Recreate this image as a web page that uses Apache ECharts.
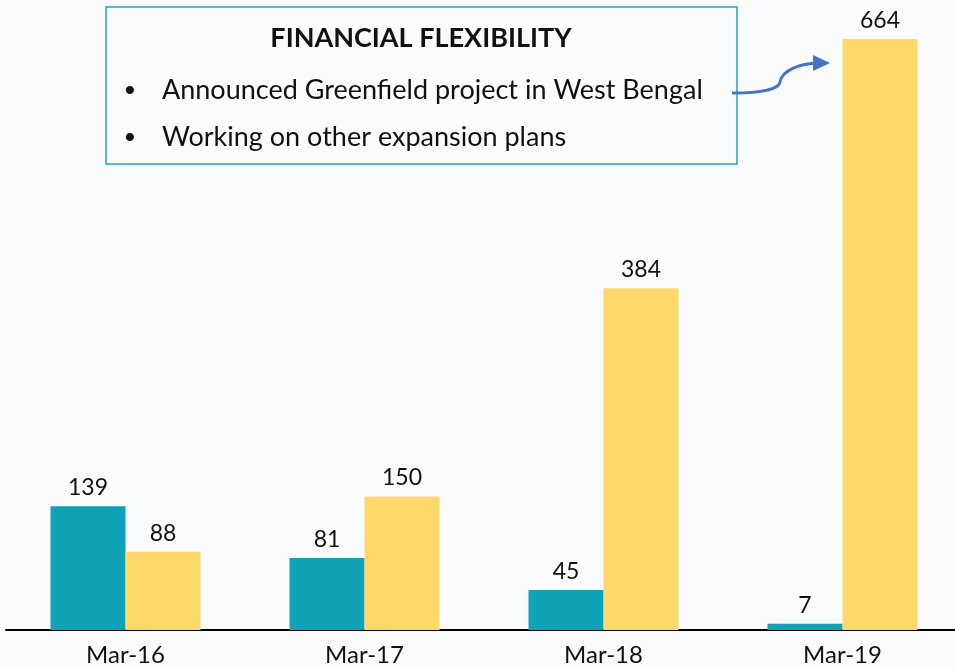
<!DOCTYPE html>
<html>
<head>
<meta charset="utf-8">
<script src="https://cdn.jsdelivr.net/npm/echarts@6/dist/echarts.min.js"></script>
<style>
html,body{margin:0;padding:0;background:#FAFBFD;overflow:hidden;}
#main{width:962px;height:670px;}
</style>
</head>
<body>
<div id="main"></div>
<script>
var categories = ['Mar-16', 'Mar-17', 'Mar-18', 'Mar-19'];
var tealValues = [139, 81, 45, 7];
var yellowValues = [88, 150, 384, 664];
var boxTitle = 'FINANCIAL FLEXIBILITY';
var boxBullets = ['Announced Greenfield project in West Bengal', 'Working on other expansion plans'];

var FONT = 'Lato, "Open Sans", sans-serif';

var labelStyle = {
    show: true,
    position: 'top',
    distance: 7,
    color: '#111',
    fontSize: 23,
    fontFamily: FONT
};

// chart div is a little wider than the window so the last category runs off the edge like the original
var myChart = echarts.init(document.getElementById('main'));

var graphics = [
    {
        type: 'rect',
        shape: {x: 106, y: 7, width: 631, height: 157},
        style: {fill: '#FAFBFD', stroke: '#1AA9BD', lineWidth: 1.5},
        z: 10
    },
    {
        type: 'text',
        x: 421, y: 38,
        style: {text: boxTitle, font: 'bold 27px ' + FONT, fill: '#111', textAlign: 'center', textVerticalAlign: 'middle'},
        z: 11
    },
    // curved arrow toward Mar-19 bar
    {
        type: 'bezierCurve',
        shape: {x1: 732, y1: 93, cpx1: 762, cpy1: 93, cpx2: 779, cpy2: 89, x2: 780, y2: 82},
        style: {fill: null, stroke: '#4472C4', lineWidth: 3},
        z: 11
    },
    {
        type: 'bezierCurve',
        shape: {x1: 780, y1: 82, cpx1: 782, cpy1: 70, cpx2: 800, cpy2: 64, x2: 816, y2: 63},
        style: {fill: null, stroke: '#4472C4', lineWidth: 3},
        z: 11
    },
    {
        type: 'polygon',
        shape: {points: [[813, 55], [830, 63], [813, 71]]},
        style: {fill: '#4472C4'},
        z: 11
    }
];
boxBullets.forEach(function (t, i) {
    var y = 90 + i * 47;
    graphics.push({
        type: 'text', x: 130, y: y,
        style: {text: '•', font: '22px ' + FONT, fill: '#111', textAlign: 'center', textVerticalAlign: 'middle'},
        z: 11
    });
    graphics.push({
        type: 'text', x: 162, y: y,
        style: {text: t, font: '27px ' + FONT, fill: '#111', textVerticalAlign: 'middle'},
        z: 11
    });
});

var option = {
    backgroundColor: '#FAFBFD',
    animation: false,
    grid: {left: 6, top: 39, right: 0, bottom: 40},
    xAxis: {
        type: 'category',
        data: categories,
        axisTick: {show: false},
        axisLine: {lineStyle: {color: '#000', width: 2}},
        axisLabel: {color: '#111', fontSize: 24, fontFamily: FONT, margin: 13}
    },
    yAxis: {
        type: 'value',
        min: 0,
        max: 664,
        show: false,
        splitLine: {show: false}
    },
    series: [
        {
            type: 'bar',
            data: tealValues,
            barWidth: 75,
            barGap: '0%',
            itemStyle: {color: '#10A3B7'},
            label: labelStyle
        },
        {
            type: 'bar',
            data: yellowValues,
            barWidth: 75,
            itemStyle: {color: '#FED86A'},
            label: labelStyle
        }
    ],
    graphic: graphics
};

myChart.setOption(option);
</script>
</body>
</html>
